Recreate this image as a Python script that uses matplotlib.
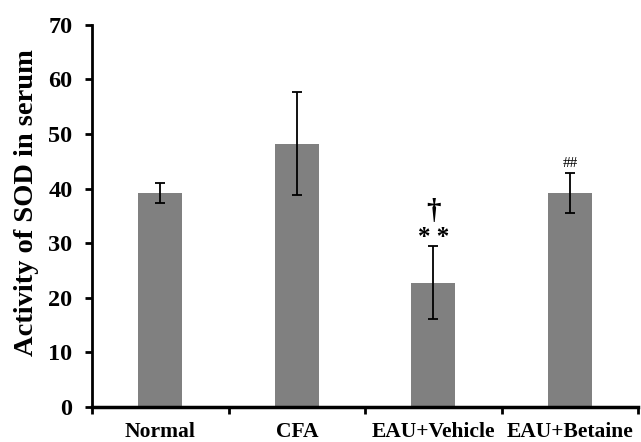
import numpy as np
import matplotlib.pyplot as plt

groups = ['Normal', 'CFA', 'EAU+Vehicle', 'EAU+Betaine']
sod = [39.2, 48.2, 22.8, 39.2]
sod_err = [1.8, 9.4, 6.7, 3.6]
marks = ['', '', '**', '##']

plt.rcParams['font.family'] = ['Liberation Serif', 'DejaVu Serif']
plt.rcParams['font.weight'] = 'bold'

fig = plt.figure(figsize=(6.41, 4.42), dpi=100)
ax = fig.add_axes([0.1435, 0.079, 0.852, 0.865])

x = np.arange(len(groups))
ax.bar(x, sod, width=0.32, color='#808080', zorder=2)
ax.errorbar(x, sod, yerr=sod_err, fmt='none', ecolor='black', elinewidth=1.3,
            capsize=3.8, capthick=1.3, zorder=3)

# significance marks
for i in range(len(groups)):
    if marks[i] == '**':
        ax.text(x[i], sod[i] + sod_err[i] + 0.3, '* *', ha='center', va='baseline',
                fontsize=18, fontweight='bold')
        ax.text(x[i], sod[i] + sod_err[i] + 5.0, '\u2020', ha='center', va='baseline',
                fontsize=21, fontweight='bold')
    elif marks[i] == '##':
        ax.text(x[i], sod[i] + sod_err[i] + 1.2, '##', ha='center', va='baseline',
                fontsize=11, fontweight='normal')

ax.set_xlim(-0.5, 3.5)
ax.set_ylim(0, 70)
ax.set_yticks(np.arange(0, 71, 10))
ax.set_xticks(np.arange(-0.5, 3.6, 1.0))
ax.set_xticklabels([])
ax.set_xticks(x, minor=True)
ax.set_xticklabels(groups, minor=True)
ax.tick_params(axis='x', which='minor', length=0, pad=11, labelsize=15.5)
ax.tick_params(axis='x', which='major', direction='out', length=5, width=2)
ax.tick_params(axis='y', direction='out', length=5, width=2, labelsize=17.5, pad=9)
for lab in ax.get_xticklabels(minor=True) + ax.get_yticklabels():
    lab.set_fontweight('bold')

ax.spines['top'].set_visible(False)
ax.spines['right'].set_visible(False)
ax.spines['left'].set_linewidth(2)
ax.spines['bottom'].set_linewidth(2.5)

ax.set_ylabel('Activity of SOD in serum', fontsize=20.5, fontweight='bold')
ax.yaxis.set_label_coords(-0.097, 0.534)

fig.savefig('out.png', dpi=100)
